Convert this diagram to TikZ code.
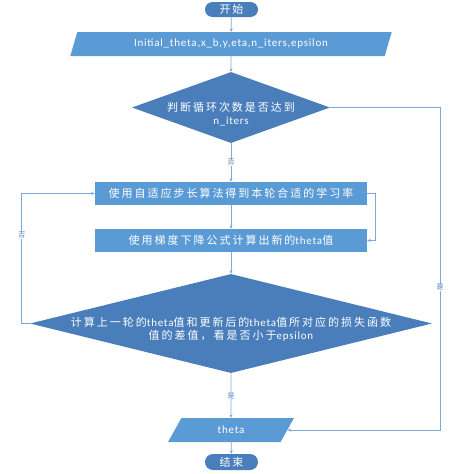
\documentclass[tikz,border=0pt]{standalone}
\usepackage{fontspec}
\setmainfont[LetterSpace=7]{Carlito}
\newfontfamily\cjk[LetterSpace=18]{Noto Sans CJK SC}
\newfontfamily\cjklab{Noto Sans CJK SC}
\usetikzlibrary{shapes.geometric,arrows.meta}
\definecolor{boxblue}{HTML}{5B9BD5}
\definecolor{darkblue}{HTML}{4A7EBB}
\definecolor{lineblue}{HTML}{7FA8D8}
\begin{document}
\begin{tikzpicture}[x=1pt,y=-1pt,
  every node/.style={font=\fontsize{11}{13}\selectfont, text=white},
  pill/.style={rectangle, rounded corners=7.5pt, fill=darkblue, draw=none, minimum width=53pt, minimum height=15pt, inner sep=0pt},
  procbox/.style={rectangle, fill=boxblue, draw=none, minimum width=272pt, minimum height=23pt, inner sep=0pt},
  iobox/.style={trapezium, trapezium left angle=65, trapezium right angle=115, trapezium stretches=true, fill=boxblue, draw=none, minimum height=24pt, inner sep=0pt},
  decbox/.style={diamond, fill=darkblue, draw=none, inner sep=0pt},
  txt/.style={align=center, inner sep=0pt},
  conn/.style={draw=lineblue, line width=0.7pt, -{Stealth[length=3.5pt,width=3pt]}},
  lab/.style={font=\cjklab\fontsize{7}{7}\selectfont, text=darkblue, fill=white, inner sep=0.5pt}
]
\useasboundingbox (0,0) rectangle (463,474);

\node[pill] (start) at (231.5,9.5) {\cjk 开始};
\node[iobox, minimum width=322pt] (in1) at (231,44) {Initial\_theta,x\_b,y,eta,n\_iters,epsilon};
\node[decbox, minimum width=198pt, minimum height=71pt] (d1) at (231,107.5) {};
\node[txt] at (231,114) {{\cjk 判断循环次数是否达到}\\n\_iters};
\node[procbox] (r1) at (231,193.5) {\cjk 使用自适应步长算法得到本轮合适的学习率};
\node[procbox] (r2) at (231,240.5) {{\cjk 使用梯度下降公式计算出新的}theta{\cjk 值}};
\node[decbox, minimum width=402pt, minimum height=99pt] (d2) at (231,323.5) {};
\node[txt] at (231,329.5) {{\cjk 计算上一轮的}theta{\cjk 值和更新后的}theta{\cjk 值所对应的损失函数}\\{\cjk 值的差值，看是否小于}epsilon};
\node[iobox, minimum width=126pt] (out) at (231,430) {theta};
\node[pill, minimum height=16pt, rounded corners=8pt] (end) at (231.5,462) {\cjk 结束};

\draw[conn] (start) -- (in1);
\draw[conn] (in1) -- (d1.north);
\draw[conn] (d1.south) -- node[lab]{否} (r1);
\draw[conn] (r1) -- (r2);
\draw[conn] (r1.east) -- ++(8,0) |- (r2.east);
\draw[conn] (r2) -- (d2.north);
\draw[conn] (d2.south) -- node[lab]{是} (out);
\draw[conn] (out) -- (end);
\draw[conn] (d2.west) -- ++(-8,0) |- node[lab, pos=0.34]{否} (r1.west);
\draw[conn] (d1.east) -- ++(110,0) |- node[lab, pos=0.279]{是} (out.east);
\end{tikzpicture}
\end{document}
